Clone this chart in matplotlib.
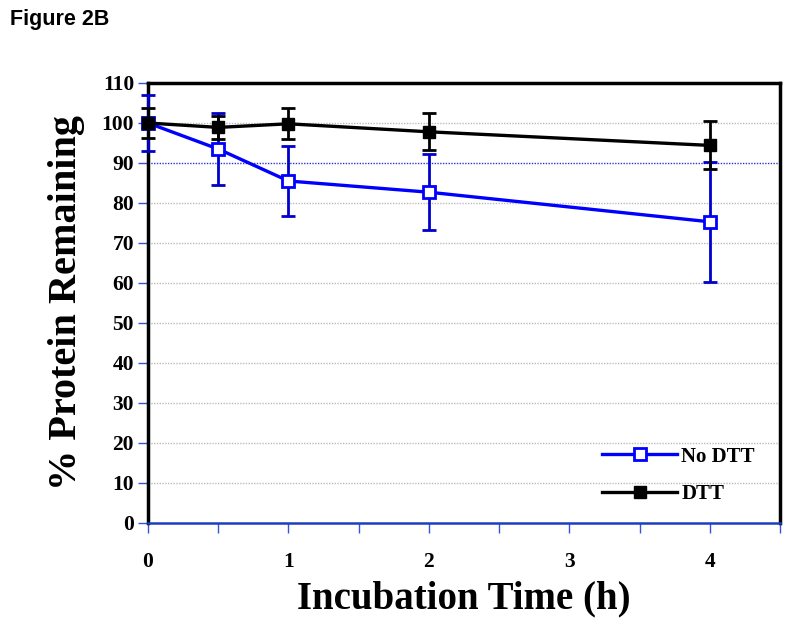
import matplotlib
matplotlib.use("Agg")
import matplotlib.pyplot as plt
from matplotlib.lines import Line2D

# data
tiempo = [0, 0.5, 1, 2, 4]
sin_dtt = [100, 93.5, 85.5, 82.7, 75.3]
sin_dtt_err = [7, 9, 8.7, 9.5, 15]
con_dtt = [100, 98.9, 99.8, 97.8, 94.4]
con_dtt_err = [3.7, 2.8, 3.9, 4.6, 6]
etiquetas = ["No DTT", "DTT"]

azul = "#0000ff"
serif = "Liberation Serif"

fig = plt.figure(figsize=(7.91, 6.3), dpi=100)
ax = fig.add_axes([148 / 791, 107 / 630, 632 / 791, 440 / 630])

cont = []
cont.append(ax.errorbar(tiempo, sin_dtt, yerr=sin_dtt_err, color=azul, ecolor="#0000cc",
                        lw=2.4, elinewidth=2, capsize=5, capthick=2,
                        marker="s", ms=8, mfc="white", mec=azul, mew=2, zorder=3))
cont.append(ax.errorbar(tiempo, con_dtt, yerr=con_dtt_err, color="black", ecolor="black",
                        lw=2.4, elinewidth=2, capsize=5, capthick=2,
                        marker="s", ms=9, mfc="black", mec="black", zorder=4))
for c in cont:
    for art in c.get_children():
        art.set_clip_on(False)

ax.set_xlim(0, 4.5)
ax.set_ylim(0, 110)
ax.set_yticks(range(0, 111, 10))
ax.set_xticks([0, 0.5, 1, 1.5, 2, 2.5, 3, 3.5, 4, 4.5])
ax.set_xticklabels(["0", "", "1", "", "2", "", "3", "", "4", ""])

for v in range(10, 111, 10):
    if v == 90:
        ax.axhline(v, color="#3333cc", lw=1, ls=(0, (1, 1)), zorder=1)
    else:
        ax.axhline(v, color="#bbbbbb", lw=1, ls=(0, (1, 1)), zorder=1)

for lado in ["left", "top", "right"]:
    ax.spines[lado].set_color("black")
    ax.spines[lado].set_linewidth(2.5)
ax.spines["bottom"].set_color("#1a3fbf")
ax.spines["bottom"].set_linewidth(1.8)

ax.tick_params(axis="both", color="#3355dd", width=1, length=7, direction="out")
ax.tick_params(axis="x", pad=14)
ax.tick_params(axis="y", pad=3)
for t in ax.get_xticklabels() + ax.get_yticklabels():
    t.set_fontfamily(serif)
    t.set_fontweight("bold")
    t.set_fontsize(15.5)

ax.set_xlabel("Incubation Time (h)", fontfamily=serif, fontweight="bold", fontsize=28, labelpad=6)
ax.set_ylabel("% Protein Remaining", fontfamily=serif, fontweight="bold", fontsize=29, labelpad=12)

handles = [
    Line2D([], [], color=azul, lw=2.4, marker="s", ms=8, mfc="white", mec=azul, mew=2),
    Line2D([], [], color="black", lw=2.4, marker="s", ms=9, mfc="black", mec="black"),
]
ax.legend(handles, etiquetas, loc="lower right", bbox_to_anchor=(0.99, 0.0), frameon=False,
          prop={"family": serif, "weight": "bold", "size": 15},
          handlelength=3.6, labelspacing=0.85, handletextpad=0.2)

fig.text(10 / 791, 1 - 19 / 630, "Figure 2B", fontfamily="Liberation Sans",
         fontweight="bold", fontsize=15.5, va="center")

plt.savefig("out.png", dpi=100)
